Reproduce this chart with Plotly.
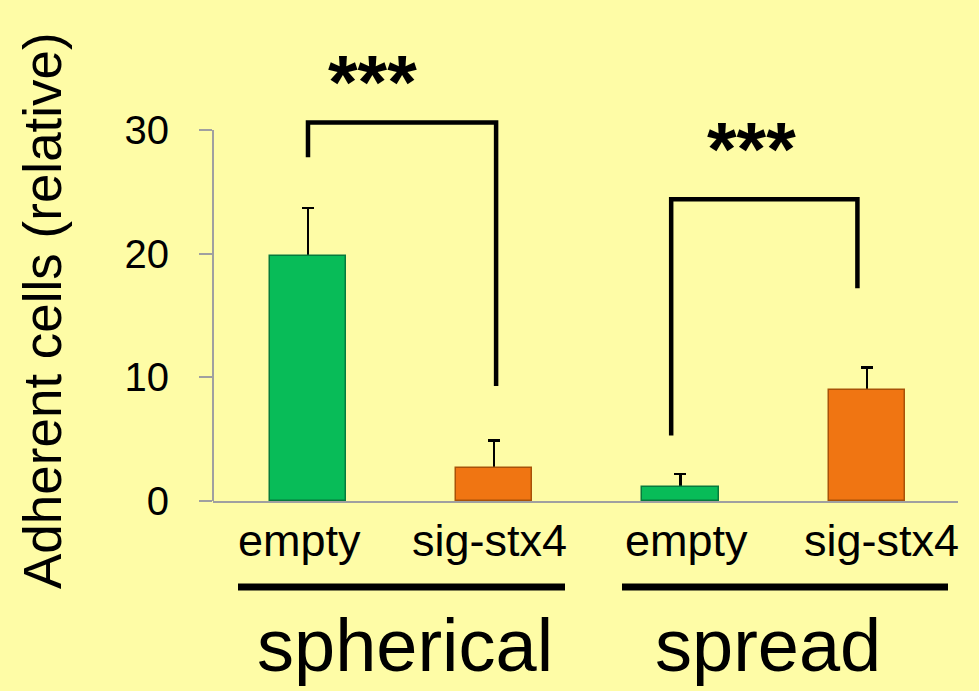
import plotly.graph_objects as go

# ---- data ----
categories = ["empty", "sig-stx4", "empty", "sig-stx4"]
values = [19.8, 2.7, 1.1, 9.0]
errors = [3.9, 2.2, 1.1, 1.8]
bar_colors = ["#08BC58", "#F07512", "#08BC58", "#F07512"]
edge_colors = ["#067A3C", "#A85208", "#067A3C", "#A85208"]
label_shift = [-8, -5, 6, 15]

groups = ["spherical", "spread"]
group_center = [0.52, 2.47]

y_ticks = [0, 10, 20, 30]

# significance brackets (x in category units, y in data units)
br1_x = [0.0, 0.0, 1.01, 1.01]
br1_y = [27.8, 30.6, 30.6, 9.3]
br2_x = [1.95, 1.95, 2.95, 2.95]
br2_y = [5.3, 24.4, 24.4, 17.2]
stars_x = [0.346, 2.38]
stars_y = [33.9, 28.5]

BG = "#FEFCA6"
W, H = 979, 691
ML, MR, MT, MB = 213, 21, 40, 190
PH = H - MT - MB
x_range = [-0.51, 3.49]
y_range = [0, PH / 12.367]

fig = go.Figure()
xs = list(range(len(categories)))
# error bars on a transparent bar trace underneath, so the lower caps are hidden
fig.add_trace(go.Bar(
    x=xs, y=values, width=0.41,
    marker=dict(color="rgba(0,0,0,0)", line=dict(width=0)),
    error_y=dict(type="data", symmetric=False, array=errors,
                 arrayminus=[0] * len(errors), color="black",
                 thickness=2.2, width=6),
    showlegend=False, hoverinfo="skip",
))
fig.add_trace(go.Bar(
    x=xs, y=values, width=0.41,
    marker=dict(color=bar_colors, line=dict(color=edge_colors, width=1.5)),
    showlegend=False, hoverinfo="skip",
))
for bx, by in [(br1_x, br1_y), (br2_x, br2_y)]:
    fig.add_trace(go.Scatter(x=bx, y=by, mode="lines",
                             line=dict(color="black", width=4.5),
                             showlegend=False, hoverinfo="skip"))

annotations = []
for i, c in enumerate(categories):
    annotations.append(dict(x=i, xref="x", y=(501 - 540) / PH, yref="paper",
                            text=c, showarrow=False, xshift=label_shift[i],
                            font=dict(family="Liberation Sans, Arial", size=45, color="black"),
                            xanchor="center", yanchor="middle"))
for g, gx in zip(groups, group_center):
    annotations.append(dict(x=gx, xref="x", y=(501 - 645) / PH, yref="paper",
                            text=g, showarrow=False,
                            font=dict(family="Liberation Sans, Arial", size=74, color="black"),
                            xanchor="center", yanchor="middle"))
for sx, sy in zip(stars_x, stars_y):
    annotations.append(dict(x=sx, y=sy, xref="x", yref="y", text="<b>***</b>",
                            showarrow=False,
                            font=dict(family="Liberation Sans, Arial", size=76, color="black"),
                            xanchor="center", yanchor="middle"))
annotations.append(dict(x=(42 - ML) / (W - ML - MR), xref="paper",
                        y=(501 - 311) / PH, yref="paper",
                        text="Adherent cells (relative)", textangle=-90, showarrow=False,
                        font=dict(family="Liberation Sans, Arial", size=53, color="black"),
                        xanchor="center", yanchor="middle"))

pw = W - ML - MR
shapes = [
    dict(type="line", xref="paper", yref="y", x0=0, x1=0, y0=0, y1=30,
         line=dict(color="#A0A0A0", width=2)),
]
for x0p, x1p in [(238, 565), (622, 948)]:
    shapes.append(dict(type="line", xref="paper", yref="paper",
                       x0=(x0p - ML) / pw, x1=(x1p - ML) / pw,
                       y0=(501 - 587) / PH, y1=(501 - 587) / PH,
                       line=dict(color="black", width=7)))

fig.update_layout(
    width=W, height=H,
    margin=dict(l=ML, r=MR, t=MT, b=MB, pad=0),
    paper_bgcolor=BG, plot_bgcolor=BG,
    barmode="overlay",
    xaxis=dict(range=x_range, showgrid=False, zeroline=False, showticklabels=False,
               showline=True, linecolor="#A0A0A0", linewidth=2, ticks=""),
    yaxis=dict(range=y_range, showgrid=False, zeroline=False, showline=False,
               tickvals=y_ticks, ticks="outside", ticklen=13, tickwidth=2,
               tickcolor="#A0A0A0", ticklabelstandoff=22,
               tickfont=dict(family="Liberation Sans, Arial", size=40, color="black")),
    annotations=annotations, shapes=shapes,
    bargap=0,
)
fig.write_html("out.html", config={"displayModeBar": False},
               post_script="document.body.style.margin='0px';document.body.style.padding='0px';document.body.style.background='" + BG + "';")
